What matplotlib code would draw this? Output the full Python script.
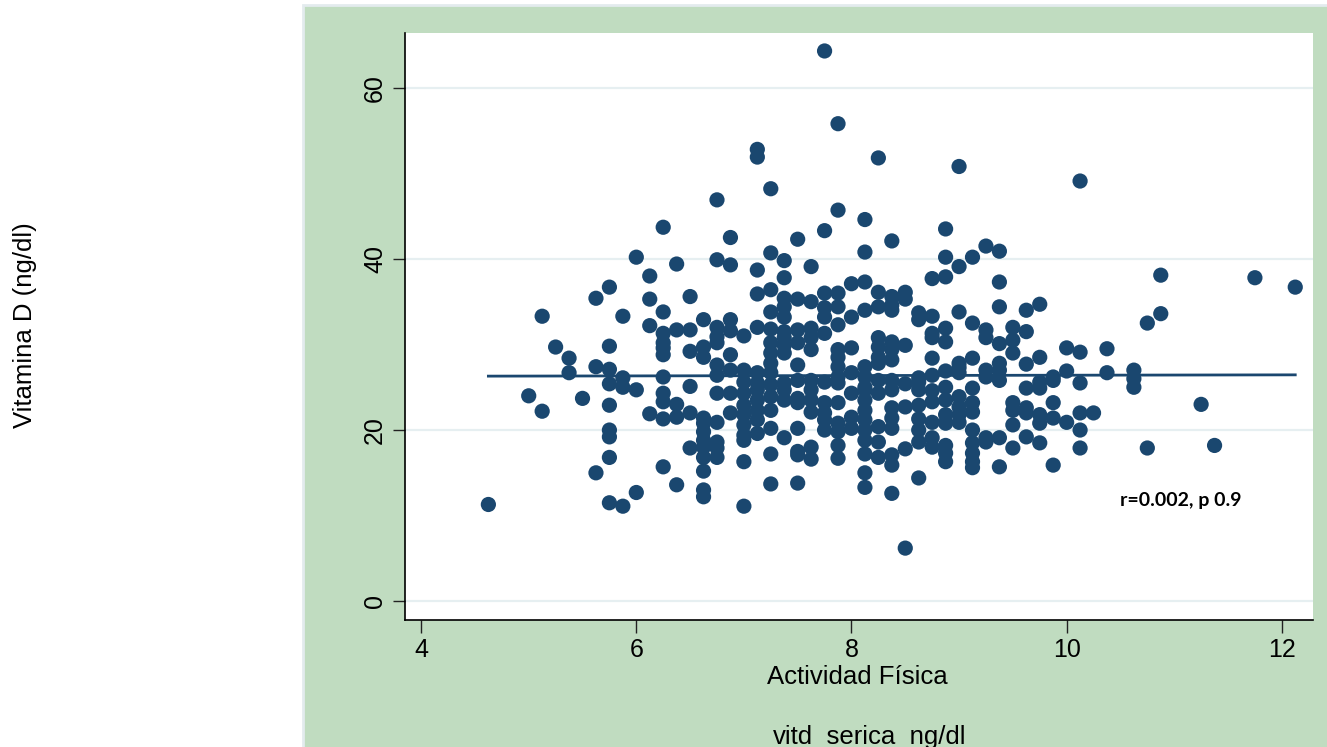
import numpy as np
import matplotlib
matplotlib.use("Agg")
import matplotlib.pyplot as plt
from matplotlib.patches import Rectangle

# activity score levels (discrete) and the serum vit D values seen at each level
act_levels = [4.625, 5.0, 5.125, 5.25, 5.375, 5.5, 5.625, 5.75, 5.875, 6.0,
              6.125, 6.25, 6.375, 6.5, 6.625, 6.75, 6.875, 7.0, 7.125, 7.25,
              7.375, 7.5, 7.625, 7.75, 7.875, 8.0, 8.125, 8.25, 8.375, 8.5,
              8.625, 8.75, 8.875, 9.0, 9.125, 9.25, 9.375, 9.5, 9.625, 9.75,
              9.875, 10.0, 10.125, 10.25, 10.375, 10.625, 10.75, 10.875, 11.25, 11.375,
              11.75, 12.125]
vitd_by_level = [
    [11.3],
    [24.0],
    [33.3, 22.2],
    [29.7],
    [28.4, 26.7],
    [23.7],
    [35.4, 27.4, 15.0],
    [36.7, 29.8, 27.1, 25.4, 22.9, 20.0, 19.2, 16.8, 11.5],
    [33.3, 26.1, 25.0, 11.1],
    [40.2, 24.7, 12.7],
    [38.0, 35.3, 32.2, 21.9],
    [43.7, 33.8, 31.3, 30.2, 29.6, 28.8, 26.2, 24.3, 23.3, 21.3, 15.7],
    [39.4, 31.7, 23.0, 21.5, 13.6],
    [35.6, 31.7, 29.2, 25.1, 22.0, 17.9],
    [32.9, 29.7, 28.5, 21.4, 20.8, 19.8, 18.8, 18.0, 16.8, 15.2, 13.0, 12.2],
    [46.9, 39.9, 32.0, 30.9, 30.2, 27.6, 26.4, 24.3, 20.9, 18.6, 17.9, 16.8],
    [42.5, 39.3, 32.9, 31.6, 28.8, 27.0, 24.3, 22.0],
    [31.0, 27.0, 25.6, 24.3, 22.9, 21.8, 20.6, 19.4, 18.8, 16.3, 11.1],
    [52.8, 51.9, 38.7, 35.9, 32.0, 26.7, 25.5, 24.7, 23.5, 22.3, 21.2, 19.6],
    [48.2, 40.7, 36.4, 33.8, 31.8, 30.2, 29.0, 27.8, 26.7, 25.3, 23.9, 22.3, 20.2, 17.2, 13.7],
    [39.8, 37.8, 35.4, 34.4, 33.2, 31.5, 30.8, 29.9, 29.0, 25.5, 24.7, 23.5, 19.1],
    [42.3, 35.3, 31.7, 30.2, 27.6, 25.8, 23.7, 23.2, 20.2, 17.5, 17.1, 13.8],
    [39.1, 35.0, 31.9, 30.8, 29.4, 25.8, 24.7, 23.5, 22.1, 18.0, 16.6],
    [64.3, 43.3, 36.0, 34.3, 33.2, 31.3, 25.6, 23.2, 22.0, 21.2, 20.0],
    [55.8, 45.7, 36.0, 34.4, 32.3, 29.4, 28.5, 27.4, 26.2, 25.5, 23.2, 20.8, 19.8, 18.2, 16.7],
    [37.1, 33.2, 29.6, 26.7, 24.3, 21.5, 20.2],
    [44.6, 40.8, 37.3, 34.0, 27.4, 26.2, 25.0, 24.7, 23.5, 22.3, 21.2, 20.0, 18.8, 17.2, 15.0, 13.3],
    [51.8, 36.1, 34.4, 30.8, 29.7, 28.5, 27.8, 25.8, 24.3, 20.4, 18.6, 16.8],
    [42.1, 35.6, 34.6, 34.0, 30.3, 29.4, 28.2, 25.8, 24.7, 22.6, 21.4, 20.2, 17.1, 15.9, 12.6],
    [36.1, 35.3, 29.9, 25.4, 22.7, 17.8, 6.2],
    [33.7, 32.9, 26.1, 25.6, 24.7, 22.9, 21.3, 20.0, 18.6, 14.4],
    [37.7, 33.3, 31.3, 30.8, 28.4, 26.4, 24.6, 23.3, 20.9, 19.1, 18.0],
    [43.5, 40.2, 37.9, 31.9, 30.3, 26.9, 25.0, 23.5, 21.8, 20.8, 18.2, 17.3, 16.3],
    [50.8, 39.1, 33.8, 27.8, 27.3, 26.7, 23.9, 22.7, 21.8, 20.9],
    [40.2, 32.5, 28.4, 24.9, 23.2, 22.1, 20.0, 18.5, 17.3, 16.3, 15.6],
    [41.5, 31.7, 30.8, 27.0, 26.2, 19.1, 18.6],
    [40.9, 37.3, 34.4, 30.1, 27.8, 27.0, 25.8, 19.1, 15.7],
    [32.0, 30.5, 29.0, 23.2, 22.3, 20.6, 17.9],
    [34.0, 31.5, 27.7, 24.9, 22.6, 22.0, 19.2],
    [34.7, 28.5, 25.6, 24.9, 21.8, 20.8, 18.5],
    [26.2, 25.8, 23.2, 21.4, 15.9],
    [29.6, 26.9, 20.9],
    [49.1, 29.1, 25.5, 22.0, 20.0, 17.9],
    [22.0],
    [29.5, 26.7],
    [27.0, 26.0, 25.0],
    [32.5, 17.9],
    [38.1, 33.6],
    [23.0],
    [18.2],
    [37.8],
    [36.7],
]

# fitted line as drawn (nearly flat)
fit_x = [4.625, 12.125]
fit_y = [26.3, 26.45]

x_ticks = [4, 6, 8, 10, 12]
y_ticks = [0, 20, 40, 60]

NAVY = "#1a476f"
GREEN = "#c0dcc0"
FONT = ["Liberation Sans", "DejaVu Sans"]

act = np.concatenate([[lv] * len(v) for lv, v in zip(act_levels, vitd_by_level)])
vitd = np.concatenate([np.asarray(v, float) for v in vitd_by_level])

W, H = 1327, 747
plt.rcParams["font.family"] = FONT
fig = plt.figure(figsize=(W / 100, H / 100), dpi=100)
fig.patch.set_facecolor("white")

# green graph region (stata-style outer panel), kept behind the axes
fig.patches.append(Rectangle((303 / W, -0.01), 1.0, 1 - 5 / H + 0.01, transform=fig.transFigure,
                             facecolor=GREEN, edgecolor="#e3ebee", lw=2.0, zorder=-5))

ax = fig.add_axes([405 / W, (H - 620) / H, (1313 - 405) / W, (620 - 33) / H])
ax.set_zorder(2)
ax.set_facecolor("white")
ax.set_xlim(3.85, 12.29)
ax.set_ylim(-2.2, 66.4)

for yt in y_ticks:
    ax.axhline(yt, color="#e6eff1", lw=1.6, zorder=0)

ax.scatter(act, vitd, s=120, color=NAVY, edgecolors="none", zorder=3)
ax.plot(fit_x, fit_y, color=NAVY, lw=2.0, zorder=4)

ax.set_xticks(x_ticks)
ax.set_yticks(y_ticks)
ax.set_xticklabels([str(t) for t in x_ticks], fontsize=18)
ax.set_yticklabels([str(t) for t in y_ticks], fontsize=18, rotation=90, va="center")
ax.tick_params(axis="both", length=9, width=1.0, color="#222222", pad=4)

for s in ("top", "right"):
    ax.spines[s].set_visible(False)
for s in ("left", "bottom"):
    ax.spines[s].set_color("black")
    ax.spines[s].set_linewidth(1.2)

ax.text(10.5, 11.8, "r=0.002, p 0.9", fontsize=14, fontweight="bold",
        family=["Lato", "DejaVu Sans"], va="center", ha="left", zorder=5)

fig.text(857 / W, 1 - 677 / H, "Actividad Física", fontsize=18.5, ha="center", va="center", zorder=6)
fig.text(870 / W, 1 - 737 / H, "vitd_serica_ng/dl", fontsize=18.5, ha="center", va="center", zorder=6)
fig.text(25 / W, 1 - 325 / H, "Vitamina D (ng/dl)", fontsize=18.5, rotation=90,
         ha="center", va="center", zorder=6)

fig.savefig("out.png", dpi=100, facecolor="white")
